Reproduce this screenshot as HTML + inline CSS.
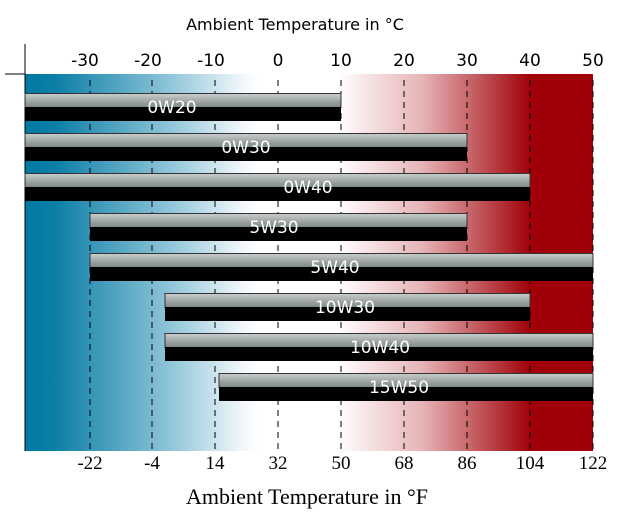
<!DOCTYPE html><html><head><style>body{margin:0;background:#fff;width:627px;height:517px;overflow:hidden}</style></head><body>
<svg width="627" height="517" xmlns="http://www.w3.org/2000/svg">
<defs>
<linearGradient id="bg" x1="25" x2="593" gradientUnits="userSpaceOnUse">
<stop offset="0" stop-color="#0079a3"/><stop offset="0.05" stop-color="#0a7ea6"/>
<stop offset="0.25" stop-color="#8cc3d8"/><stop offset="0.38" stop-color="#eef6f9"/>
<stop offset="0.41" stop-color="#fff"/><stop offset="0.55" stop-color="#fff"/>
<stop offset="0.7" stop-color="#e6b3b6"/><stop offset="0.86" stop-color="#aa1e24"/>
<stop offset="0.89" stop-color="#a00008"/><stop offset="1" stop-color="#a00008"/>
</linearGradient>
<linearGradient id="gr" x1="0" x2="0" y1="0" y2="1">
<stop offset="0" stop-color="#c9cecd"/><stop offset="1" stop-color="#7d8786"/>
</linearGradient>
</defs>
<rect x="25" y="74" width="568" height="377" fill="url(#bg)"/>
<line x1="5" y1="74" x2="25" y2="74" stroke="#000"/><line x1="25" y1="44" x2="25" y2="451" stroke="#000"/>
<g stroke="#000" stroke-dasharray="6,5">
<line x1="90" y1="80" x2="90" y2="451"/><line x1="152" y1="80" x2="152" y2="451"/><line x1="215" y1="80" x2="215" y2="451"/><line x1="278" y1="80" x2="278" y2="451"/><line x1="341" y1="80" x2="341" y2="451"/><line x1="404" y1="80" x2="404" y2="451"/><line x1="467" y1="80" x2="467" y2="451"/><line x1="530" y1="80" x2="530" y2="451"/><line x1="593" y1="80" x2="593" y2="451"/>
</g>
<g font-family="DejaVu Sans, sans-serif" font-size="17" text-anchor="middle" fill="#000">
<text x="295" y="30" font-size="16">Ambient Temperature in °C</text>
<text x="85" y="66">-30</text><text x="148" y="66">-20</text><text x="211" y="66">-10</text><text x="278" y="66">0</text><text x="341" y="66">10</text><text x="404" y="66">20</text><text x="467" y="66">30</text><text x="530" y="66">40</text><text x="593" y="66">50</text>
</g>
<g font-family="DejaVu Sans, sans-serif" font-size="17" fill="#fff" text-anchor="middle">
<g><rect x="25" y="93.5" width="316" height="14" fill="url(#gr)" stroke="#333"/><rect x="25" y="107" width="316" height="14" fill="#000"/><text x="172" y="113">0W20</text></g>
<g><rect x="25" y="133.5" width="442" height="14" fill="url(#gr)" stroke="#333"/><rect x="25" y="147" width="442" height="14" fill="#000"/><text x="246" y="153">0W30</text></g>
<g><rect x="25" y="173.5" width="505" height="14" fill="url(#gr)" stroke="#333"/><rect x="25" y="187" width="505" height="14" fill="#000"/><text x="308" y="193">0W40</text></g>
<g><rect x="90" y="213.5" width="377" height="14" fill="url(#gr)" stroke="#333"/><rect x="90" y="227" width="377" height="14" fill="#000"/><text x="274" y="233">5W30</text></g>
<g><rect x="90" y="253.5" width="503" height="14" fill="url(#gr)" stroke="#333"/><rect x="90" y="267" width="503" height="14" fill="#000"/><text x="335" y="273">5W40</text></g>
<g><rect x="165" y="293.5" width="365" height="14" fill="url(#gr)" stroke="#333"/><rect x="165" y="307" width="365" height="14" fill="#000"/><text x="345" y="313">10W30</text></g>
<g><rect x="165" y="333.5" width="428" height="14" fill="url(#gr)" stroke="#333"/><rect x="165" y="347" width="428" height="14" fill="#000"/><text x="380" y="353">10W40</text></g>
<g><rect x="219" y="373.5" width="374" height="14" fill="url(#gr)" stroke="#333"/><rect x="219" y="387" width="374" height="14" fill="#000"/><text x="399" y="393">15W50</text></g>
</g>
<g font-family="Liberation Serif, serif" font-size="19" text-anchor="middle" fill="#000">
<text x="90" y="469">-22</text><text x="152" y="469">-4</text><text x="215" y="469">14</text><text x="278" y="469">32</text><text x="341" y="469">50</text><text x="404" y="469">68</text><text x="467" y="469">86</text><text x="530" y="469">104</text><text x="593" y="469">122</text>
<text x="307" y="504" font-size="22">Ambient Temperature in °F</text>
</g>
</svg></body></html>
